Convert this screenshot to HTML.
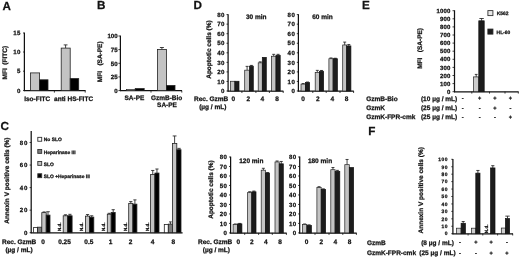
<!DOCTYPE html>
<html><head><meta charset="utf-8"><title>Figure</title>
<style>
html,body{margin:0;padding:0;background:#fff;}
svg{display:block}
text{font-family:"Liberation Sans",sans-serif;font-weight:bold;fill:#111;text-rendering:geometricPrecision;stroke:#111;stroke-width:0.25px;white-space:pre;}
</style></head><body>
<svg width="520" height="258" viewBox="0 0 520 258">
<rect width="520" height="258" fill="#fff"/>
<text x="2.40" y="9.90" text-anchor="start" font-size="11.7" >A</text>
<text x="97.00" y="9.30" text-anchor="start" font-size="11.7" >B</text>
<text x="193.50" y="9.00" text-anchor="start" font-size="11.7" >D</text>
<text x="362.10" y="9.00" text-anchor="start" font-size="11.7" >E</text>
<text x="0.50" y="130.20" text-anchor="start" font-size="11.7" >C</text>
<text x="368.30" y="134.60" text-anchor="start" font-size="11.7" >F</text>
<path d="M24.40 32.60L24.40 91.10" stroke="#111" stroke-width="1.25" fill="none"/>
<path d="M23.00 33.00L24.40 33.00" stroke="#111" stroke-width="0.8" fill="none"/>
<text x="20.70" y="35.20" text-anchor="end" font-size="6.1" letter-spacing="0.3">15</text>
<path d="M23.00 52.00L24.40 52.00" stroke="#111" stroke-width="0.8" fill="none"/>
<text x="20.70" y="54.20" text-anchor="end" font-size="6.1" letter-spacing="0.3">10</text>
<path d="M23.00 71.20L24.40 71.20" stroke="#111" stroke-width="0.8" fill="none"/>
<text x="20.70" y="73.40" text-anchor="end" font-size="6.1" letter-spacing="0.3">5</text>
<path d="M23.00 90.60L24.40 90.60" stroke="#111" stroke-width="0.8" fill="none"/>
<text x="20.70" y="92.80" text-anchor="end" font-size="6.1" letter-spacing="0.3">0</text>
<path d="M23.90 90.60L85.60 90.60" stroke="#111" stroke-width="1.3" fill="none"/>
<path d="M54.40 90.60L54.40 92.60" stroke="#111" stroke-width="0.8" fill="none"/>
<path d="M85.20 90.60L85.20 92.60" stroke="#111" stroke-width="0.8" fill="none"/>
<rect x="30.40" y="72.90" width="9.20" height="17.70" fill="#c3c3c3" stroke="#222" stroke-width="0.8"/>
<rect x="39.60" y="79.80" width="8.40" height="10.80" fill="#000" stroke="#222" stroke-width="0.8"/>
<path d="M65.60 48.00V44.90M63.70 44.90H67.50" stroke="#222" stroke-width="0.85" fill="none"/>
<rect x="61.20" y="48.10" width="9.00" height="42.50" fill="#c3c3c3" stroke="#222" stroke-width="0.8"/>
<rect x="70.20" y="78.60" width="8.50" height="12.00" fill="#000" stroke="#222" stroke-width="0.8"/>
<text x="37.20" y="100.60" text-anchor="middle" font-size="6.5" >Iso-FITC</text>
<text x="73.60" y="100.60" text-anchor="middle" font-size="6.5" >anti HS-FITC</text>
<text transform="translate(7.20 79.50) rotate(-90)" text-anchor="start" font-size="6.5" xml:space="preserve">MFI  (FITC)</text>
<path d="M120.40 35.60L120.40 91.10" stroke="#111" stroke-width="1.25" fill="none"/>
<path d="M118.40 36.00L120.40 36.00" stroke="#111" stroke-width="0.8" fill="none"/>
<text x="117.60" y="38.20" text-anchor="end" font-size="6.1" >100</text>
<path d="M118.40 49.60L120.40 49.60" stroke="#111" stroke-width="0.8" fill="none"/>
<text x="117.60" y="51.80" text-anchor="end" font-size="6.1" >75</text>
<path d="M118.40 63.30L120.40 63.30" stroke="#111" stroke-width="0.8" fill="none"/>
<text x="117.60" y="65.50" text-anchor="end" font-size="6.1" >50</text>
<path d="M118.40 76.90L120.40 76.90" stroke="#111" stroke-width="0.8" fill="none"/>
<text x="117.60" y="79.10" text-anchor="end" font-size="6.1" >25</text>
<path d="M118.40 90.60L120.40 90.60" stroke="#111" stroke-width="0.8" fill="none"/>
<text x="117.60" y="92.80" text-anchor="end" font-size="6.1" >0</text>
<path d="M119.90 90.60L182.00 90.60" stroke="#111" stroke-width="1.3" fill="none"/>
<path d="M151.00 90.60L151.00 92.60" stroke="#111" stroke-width="0.8" fill="none"/>
<path d="M181.80 90.60L181.80 92.60" stroke="#111" stroke-width="0.8" fill="none"/>
<rect x="126.60" y="89.60" width="8.60" height="1.00" fill="#c3c3c3" stroke="#222" stroke-width="0.7"/>
<rect x="135.20" y="88.50" width="9.00" height="2.10" fill="#000" stroke="#222" stroke-width="0.7"/>
<path d="M161.90 49.40V47.50M159.90 47.50H163.90" stroke="#222" stroke-width="0.85" fill="none"/>
<rect x="157.40" y="49.40" width="9.00" height="41.20" fill="#c3c3c3" stroke="#222" stroke-width="0.8"/>
<rect x="166.40" y="85.50" width="8.60" height="5.10" fill="#000" stroke="#222" stroke-width="0.8"/>
<text x="134.40" y="99.90" text-anchor="middle" font-size="6.5" >SA-PE</text>
<text x="166.60" y="99.90" text-anchor="middle" font-size="6.5" >GzmB-Bio</text>
<text x="167.00" y="107.00" text-anchor="middle" font-size="6.5" >SA-PE</text>
<text transform="translate(102.30 82.20) rotate(-90)" text-anchor="start" font-size="6.5" xml:space="preserve">MFI   (SA-PE)</text>
<path d="M228.10 14.20L228.10 91.50" stroke="#111" stroke-width="1.25" fill="none"/>
<path d="M226.50 14.60L228.10 14.60" stroke="#111" stroke-width="0.8" fill="none"/>
<text x="224.90" y="16.80" text-anchor="end" font-size="6.1" letter-spacing="0.4">80</text>
<path d="M226.50 24.15L228.10 24.15" stroke="#111" stroke-width="0.8" fill="none"/>
<text x="224.90" y="26.35" text-anchor="end" font-size="6.1" letter-spacing="0.4">70</text>
<path d="M226.50 33.70L228.10 33.70" stroke="#111" stroke-width="0.8" fill="none"/>
<text x="224.90" y="35.90" text-anchor="end" font-size="6.1" letter-spacing="0.4">60</text>
<path d="M226.50 43.25L228.10 43.25" stroke="#111" stroke-width="0.8" fill="none"/>
<text x="224.90" y="45.45" text-anchor="end" font-size="6.1" letter-spacing="0.4">50</text>
<path d="M226.50 52.80L228.10 52.80" stroke="#111" stroke-width="0.8" fill="none"/>
<text x="224.90" y="55.00" text-anchor="end" font-size="6.1" letter-spacing="0.4">40</text>
<path d="M226.50 62.35L228.10 62.35" stroke="#111" stroke-width="0.8" fill="none"/>
<text x="224.90" y="64.55" text-anchor="end" font-size="6.1" letter-spacing="0.4">30</text>
<path d="M226.50 71.90L228.10 71.90" stroke="#111" stroke-width="0.8" fill="none"/>
<text x="224.90" y="74.10" text-anchor="end" font-size="6.1" letter-spacing="0.4">20</text>
<path d="M226.50 81.45L228.10 81.45" stroke="#111" stroke-width="0.8" fill="none"/>
<text x="224.90" y="83.65" text-anchor="end" font-size="6.1" letter-spacing="0.4">10</text>
<path d="M226.50 91.00L228.10 91.00" stroke="#111" stroke-width="0.8" fill="none"/>
<text x="224.90" y="93.20" text-anchor="end" font-size="6.1" letter-spacing="0.4">0</text>
<path d="M227.60 91.20L283.40 91.20" stroke="#111" stroke-width="1.3" fill="none"/>
<path d="M241.90 91.00L241.90 93.00" stroke="#111" stroke-width="0.8" fill="none"/>
<path d="M255.90 91.00L255.90 93.00" stroke="#111" stroke-width="0.8" fill="none"/>
<path d="M269.40 91.00L269.40 93.00" stroke="#111" stroke-width="0.8" fill="none"/>
<path d="M283.20 91.00L283.20 93.00" stroke="#111" stroke-width="0.8" fill="none"/>
<rect x="230.50" y="81.26" width="4.40" height="9.74" fill="#c3c3c3" stroke="#222" stroke-width="0.7"/>
<rect x="234.90" y="81.26" width="4.10" height="9.74" fill="#1c1c1c" stroke="#111" stroke-width="0.7"/>
<path d="M247.10 70.18V66.36M245.60 66.36H248.60" stroke="#222" stroke-width="0.85" fill="none"/>
<path d="M251.40 66.17V65.41M249.90 65.41H252.90" stroke="#222" stroke-width="0.85" fill="none"/>
<rect x="244.70" y="70.18" width="4.80" height="20.82" fill="#c3c3c3" stroke="#222" stroke-width="0.7"/>
<rect x="249.50" y="66.17" width="3.80" height="24.83" fill="#1c1c1c" stroke="#111" stroke-width="0.7"/>
<path d="M260.25 62.83V61.87M258.75 61.87H261.75" stroke="#222" stroke-width="0.85" fill="none"/>
<rect x="258.20" y="62.83" width="4.10" height="28.17" fill="#c3c3c3" stroke="#222" stroke-width="0.7"/>
<rect x="262.30" y="57.38" width="4.00" height="33.62" fill="#1c1c1c" stroke="#111" stroke-width="0.7"/>
<path d="M273.70 56.24V54.33M272.20 54.33H275.20" stroke="#222" stroke-width="0.85" fill="none"/>
<path d="M278.10 55.28V54.33M276.60 54.33H279.60" stroke="#222" stroke-width="0.85" fill="none"/>
<rect x="271.40" y="56.24" width="4.60" height="34.76" fill="#c3c3c3" stroke="#222" stroke-width="0.7"/>
<rect x="276.00" y="55.28" width="4.20" height="35.72" fill="#1c1c1c" stroke="#111" stroke-width="0.7"/>
<text x="233.30" y="101.00" text-anchor="middle" font-size="6.5" >0</text>
<text x="248.20" y="101.00" text-anchor="middle" font-size="6.5" >2</text>
<text x="262.30" y="101.00" text-anchor="middle" font-size="6.5" >4</text>
<text x="277.00" y="101.00" text-anchor="middle" font-size="6.5" >8</text>
<text x="256.30" y="19.00" text-anchor="middle" font-size="6.5" >30 min</text>
<path d="M298.40 14.20L298.40 91.50" stroke="#111" stroke-width="1.25" fill="none"/>
<path d="M296.80 14.60L298.40 14.60" stroke="#111" stroke-width="0.8" fill="none"/>
<text x="295.20" y="16.80" text-anchor="end" font-size="6.1" letter-spacing="0.4">80</text>
<path d="M296.80 24.15L298.40 24.15" stroke="#111" stroke-width="0.8" fill="none"/>
<text x="295.20" y="26.35" text-anchor="end" font-size="6.1" letter-spacing="0.4">70</text>
<path d="M296.80 33.70L298.40 33.70" stroke="#111" stroke-width="0.8" fill="none"/>
<text x="295.20" y="35.90" text-anchor="end" font-size="6.1" letter-spacing="0.4">60</text>
<path d="M296.80 43.25L298.40 43.25" stroke="#111" stroke-width="0.8" fill="none"/>
<text x="295.20" y="45.45" text-anchor="end" font-size="6.1" letter-spacing="0.4">50</text>
<path d="M296.80 52.80L298.40 52.80" stroke="#111" stroke-width="0.8" fill="none"/>
<text x="295.20" y="55.00" text-anchor="end" font-size="6.1" letter-spacing="0.4">40</text>
<path d="M296.80 62.35L298.40 62.35" stroke="#111" stroke-width="0.8" fill="none"/>
<text x="295.20" y="64.55" text-anchor="end" font-size="6.1" letter-spacing="0.4">30</text>
<path d="M296.80 71.90L298.40 71.90" stroke="#111" stroke-width="0.8" fill="none"/>
<text x="295.20" y="74.10" text-anchor="end" font-size="6.1" letter-spacing="0.4">20</text>
<path d="M296.80 81.45L298.40 81.45" stroke="#111" stroke-width="0.8" fill="none"/>
<text x="295.20" y="83.65" text-anchor="end" font-size="6.1" letter-spacing="0.4">10</text>
<path d="M296.80 91.00L298.40 91.00" stroke="#111" stroke-width="0.8" fill="none"/>
<text x="295.20" y="93.20" text-anchor="end" font-size="6.1" letter-spacing="0.4">0</text>
<path d="M297.90 91.20L353.80 91.20" stroke="#111" stroke-width="1.3" fill="none"/>
<path d="M312.80 91.00L312.80 93.00" stroke="#111" stroke-width="0.8" fill="none"/>
<path d="M326.20 91.00L326.20 93.00" stroke="#111" stroke-width="0.8" fill="none"/>
<path d="M340.00 91.00L340.00 93.00" stroke="#111" stroke-width="0.8" fill="none"/>
<path d="M353.60 91.00L353.60 93.00" stroke="#111" stroke-width="0.8" fill="none"/>
<path d="M303.20 84.12V83.55M301.70 83.55H304.70" stroke="#222" stroke-width="0.85" fill="none"/>
<path d="M307.50 82.60V82.02M306.00 82.02H309.00" stroke="#222" stroke-width="0.85" fill="none"/>
<rect x="301.00" y="84.12" width="4.40" height="6.88" fill="#c3c3c3" stroke="#222" stroke-width="0.7"/>
<rect x="305.40" y="82.60" width="4.20" height="8.40" fill="#1c1c1c" stroke="#111" stroke-width="0.7"/>
<path d="M317.30 72.47V70.37M315.80 70.37H318.80" stroke="#222" stroke-width="0.85" fill="none"/>
<path d="M321.50 71.23V70.47M320.00 70.47H323.00" stroke="#222" stroke-width="0.85" fill="none"/>
<rect x="315.20" y="72.47" width="4.20" height="18.53" fill="#c3c3c3" stroke="#222" stroke-width="0.7"/>
<rect x="319.40" y="71.23" width="4.20" height="19.77" fill="#1c1c1c" stroke="#111" stroke-width="0.7"/>
<path d="M331.00 58.72V57.96M329.50 57.96H332.50" stroke="#222" stroke-width="0.85" fill="none"/>
<path d="M335.25 58.72V58.24M333.75 58.24H336.75" stroke="#222" stroke-width="0.85" fill="none"/>
<rect x="328.90" y="58.72" width="4.20" height="32.28" fill="#c3c3c3" stroke="#222" stroke-width="0.7"/>
<rect x="333.10" y="58.72" width="4.30" height="32.28" fill="#1c1c1c" stroke="#111" stroke-width="0.7"/>
<path d="M344.70 44.97V42.10M343.20 42.10H346.20" stroke="#222" stroke-width="0.85" fill="none"/>
<path d="M348.80 45.92V44.49M347.30 44.49H350.30" stroke="#222" stroke-width="0.85" fill="none"/>
<rect x="342.70" y="44.97" width="4.00" height="46.03" fill="#c3c3c3" stroke="#222" stroke-width="0.7"/>
<rect x="346.70" y="45.92" width="4.20" height="45.08" fill="#1c1c1c" stroke="#111" stroke-width="0.7"/>
<text x="303.00" y="101.00" text-anchor="middle" font-size="6.5" >0</text>
<text x="317.90" y="101.00" text-anchor="middle" font-size="6.5" >2</text>
<text x="332.20" y="101.00" text-anchor="middle" font-size="6.5" >4</text>
<text x="346.60" y="101.00" text-anchor="middle" font-size="6.5" >8</text>
<text x="322.50" y="19.00" text-anchor="middle" font-size="6.5" >60 min</text>
<text x="228.30" y="101.00" text-anchor="end" font-size="6.5" >Rec. GzmB</text>
<text x="226.40" y="108.50" text-anchor="end" font-size="6.5" >(µg / mL)</text>
<text transform="translate(211.20 78.80) rotate(-90)" text-anchor="start" font-size="6.5" >Apoptotic cells (%)</text>
<path d="M230.60 156.60L230.60 233.40" stroke="#111" stroke-width="1.25" fill="none"/>
<path d="M229.00 157.00L230.60 157.00" stroke="#111" stroke-width="0.8" fill="none"/>
<text x="227.40" y="159.20" text-anchor="end" font-size="6.1" letter-spacing="0.4">80</text>
<path d="M229.00 166.49L230.60 166.49" stroke="#111" stroke-width="0.8" fill="none"/>
<text x="227.40" y="168.68" text-anchor="end" font-size="6.1" letter-spacing="0.4">70</text>
<path d="M229.00 175.97L230.60 175.97" stroke="#111" stroke-width="0.8" fill="none"/>
<text x="227.40" y="178.17" text-anchor="end" font-size="6.1" letter-spacing="0.4">60</text>
<path d="M229.00 185.46L230.60 185.46" stroke="#111" stroke-width="0.8" fill="none"/>
<text x="227.40" y="187.66" text-anchor="end" font-size="6.1" letter-spacing="0.4">50</text>
<path d="M229.00 194.95L230.60 194.95" stroke="#111" stroke-width="0.8" fill="none"/>
<text x="227.40" y="197.15" text-anchor="end" font-size="6.1" letter-spacing="0.4">40</text>
<path d="M229.00 204.44L230.60 204.44" stroke="#111" stroke-width="0.8" fill="none"/>
<text x="227.40" y="206.63" text-anchor="end" font-size="6.1" letter-spacing="0.4">30</text>
<path d="M229.00 213.93L230.60 213.93" stroke="#111" stroke-width="0.8" fill="none"/>
<text x="227.40" y="216.12" text-anchor="end" font-size="6.1" letter-spacing="0.4">20</text>
<path d="M229.00 223.41L230.60 223.41" stroke="#111" stroke-width="0.8" fill="none"/>
<text x="227.40" y="225.61" text-anchor="end" font-size="6.1" letter-spacing="0.4">10</text>
<path d="M229.00 232.90L230.60 232.90" stroke="#111" stroke-width="0.8" fill="none"/>
<text x="227.40" y="235.10" text-anchor="end" font-size="6.1" letter-spacing="0.4">0</text>
<path d="M230.10 233.10L286.60 233.10" stroke="#111" stroke-width="1.3" fill="none"/>
<path d="M244.70 232.90L244.70 234.90" stroke="#111" stroke-width="0.8" fill="none"/>
<path d="M258.60 232.90L258.60 234.90" stroke="#111" stroke-width="0.8" fill="none"/>
<path d="M272.30 232.90L272.30 234.90" stroke="#111" stroke-width="0.8" fill="none"/>
<path d="M286.40 232.90L286.40 234.90" stroke="#111" stroke-width="0.8" fill="none"/>
<path d="M235.30 224.46V223.98M233.80 223.98H236.80" stroke="#222" stroke-width="0.85" fill="none"/>
<path d="M239.70 223.89V223.41M238.20 223.41H241.20" stroke="#222" stroke-width="0.85" fill="none"/>
<rect x="233.10" y="224.46" width="4.40" height="8.44" fill="#c3c3c3" stroke="#222" stroke-width="0.7"/>
<rect x="237.50" y="223.89" width="4.40" height="9.01" fill="#1c1c1c" stroke="#111" stroke-width="0.7"/>
<path d="M249.65 192.67V191.72M248.15 191.72H251.15" stroke="#222" stroke-width="0.85" fill="none"/>
<path d="M253.90 191.82V191.06M252.40 191.06H255.40" stroke="#222" stroke-width="0.85" fill="none"/>
<rect x="247.50" y="192.67" width="4.30" height="40.23" fill="#c3c3c3" stroke="#222" stroke-width="0.7"/>
<rect x="251.80" y="191.82" width="4.20" height="41.08" fill="#1c1c1c" stroke="#111" stroke-width="0.7"/>
<path d="M263.35 170.19V168.29M261.85 168.29H264.85" stroke="#222" stroke-width="0.85" fill="none"/>
<path d="M267.55 173.03V172.56M266.05 172.56H269.05" stroke="#222" stroke-width="0.85" fill="none"/>
<rect x="261.20" y="170.19" width="4.30" height="62.71" fill="#c3c3c3" stroke="#222" stroke-width="0.7"/>
<rect x="265.50" y="173.03" width="4.10" height="59.87" fill="#1c1c1c" stroke="#111" stroke-width="0.7"/>
<path d="M277.10 161.93V160.98M275.60 160.98H278.60" stroke="#222" stroke-width="0.85" fill="none"/>
<path d="M281.25 163.83V161.46M279.75 161.46H282.75" stroke="#222" stroke-width="0.85" fill="none"/>
<rect x="275.00" y="161.93" width="4.20" height="70.97" fill="#c3c3c3" stroke="#222" stroke-width="0.7"/>
<rect x="279.20" y="163.83" width="4.10" height="69.07" fill="#1c1c1c" stroke="#111" stroke-width="0.7"/>
<text x="238.30" y="244.20" text-anchor="middle" font-size="6.5" >0</text>
<text x="251.90" y="244.20" text-anchor="middle" font-size="6.5" >2</text>
<text x="265.80" y="244.20" text-anchor="middle" font-size="6.5" >4</text>
<text x="280.00" y="244.20" text-anchor="middle" font-size="6.5" >8</text>
<text x="251.30" y="163.20" text-anchor="middle" font-size="6.5" >120 min</text>
<path d="M299.70 156.60L299.70 233.40" stroke="#111" stroke-width="1.25" fill="none"/>
<path d="M298.10 157.00L299.70 157.00" stroke="#111" stroke-width="0.8" fill="none"/>
<text x="296.50" y="159.20" text-anchor="end" font-size="6.1" letter-spacing="0.4">80</text>
<path d="M298.10 166.49L299.70 166.49" stroke="#111" stroke-width="0.8" fill="none"/>
<text x="296.50" y="168.68" text-anchor="end" font-size="6.1" letter-spacing="0.4">70</text>
<path d="M298.10 175.97L299.70 175.97" stroke="#111" stroke-width="0.8" fill="none"/>
<text x="296.50" y="178.17" text-anchor="end" font-size="6.1" letter-spacing="0.4">60</text>
<path d="M298.10 185.46L299.70 185.46" stroke="#111" stroke-width="0.8" fill="none"/>
<text x="296.50" y="187.66" text-anchor="end" font-size="6.1" letter-spacing="0.4">50</text>
<path d="M298.10 194.95L299.70 194.95" stroke="#111" stroke-width="0.8" fill="none"/>
<text x="296.50" y="197.15" text-anchor="end" font-size="6.1" letter-spacing="0.4">40</text>
<path d="M298.10 204.44L299.70 204.44" stroke="#111" stroke-width="0.8" fill="none"/>
<text x="296.50" y="206.63" text-anchor="end" font-size="6.1" letter-spacing="0.4">30</text>
<path d="M298.10 213.93L299.70 213.93" stroke="#111" stroke-width="0.8" fill="none"/>
<text x="296.50" y="216.12" text-anchor="end" font-size="6.1" letter-spacing="0.4">20</text>
<path d="M298.10 223.41L299.70 223.41" stroke="#111" stroke-width="0.8" fill="none"/>
<text x="296.50" y="225.61" text-anchor="end" font-size="6.1" letter-spacing="0.4">10</text>
<path d="M298.10 232.90L299.70 232.90" stroke="#111" stroke-width="0.8" fill="none"/>
<text x="296.50" y="235.10" text-anchor="end" font-size="6.1" letter-spacing="0.4">0</text>
<path d="M299.20 233.10L356.60 233.10" stroke="#111" stroke-width="1.3" fill="none"/>
<path d="M315.00 232.90L315.00 234.90" stroke="#111" stroke-width="0.8" fill="none"/>
<path d="M329.00 232.90L329.00 234.90" stroke="#111" stroke-width="0.8" fill="none"/>
<path d="M342.80 232.90L342.80 234.90" stroke="#111" stroke-width="0.8" fill="none"/>
<path d="M356.40 232.90L356.40 234.90" stroke="#111" stroke-width="0.8" fill="none"/>
<path d="M304.65 224.36V223.98M303.15 223.98H306.15" stroke="#222" stroke-width="0.85" fill="none"/>
<path d="M309.15 225.40V224.84M307.65 224.84H310.65" stroke="#222" stroke-width="0.85" fill="none"/>
<rect x="302.40" y="224.36" width="4.50" height="8.54" fill="#c3c3c3" stroke="#222" stroke-width="0.7"/>
<rect x="306.90" y="225.40" width="4.50" height="7.50" fill="#1c1c1c" stroke="#111" stroke-width="0.7"/>
<path d="M319.05 187.64V186.70M317.55 186.70H320.55" stroke="#222" stroke-width="0.85" fill="none"/>
<path d="M323.40 189.35V188.88M321.90 188.88H324.90" stroke="#222" stroke-width="0.85" fill="none"/>
<rect x="316.90" y="187.64" width="4.30" height="45.26" fill="#c3c3c3" stroke="#222" stroke-width="0.7"/>
<rect x="321.20" y="189.35" width="4.40" height="43.55" fill="#1c1c1c" stroke="#111" stroke-width="0.7"/>
<path d="M332.95 169.71V167.53M331.45 167.53H334.45" stroke="#222" stroke-width="0.85" fill="none"/>
<path d="M337.45 171.33V170.38M335.95 170.38H338.95" stroke="#222" stroke-width="0.85" fill="none"/>
<rect x="330.80" y="169.71" width="4.30" height="63.19" fill="#c3c3c3" stroke="#222" stroke-width="0.7"/>
<rect x="335.10" y="171.33" width="4.70" height="61.57" fill="#1c1c1c" stroke="#111" stroke-width="0.7"/>
<path d="M347.05 164.68V159.47M345.55 159.47H348.55" stroke="#222" stroke-width="0.85" fill="none"/>
<rect x="344.80" y="164.68" width="4.50" height="68.22" fill="#c3c3c3" stroke="#222" stroke-width="0.7"/>
<rect x="349.30" y="167.53" width="4.30" height="65.37" fill="#1c1c1c" stroke="#111" stroke-width="0.7"/>
<text x="306.60" y="244.20" text-anchor="middle" font-size="6.5" >0</text>
<text x="321.20" y="244.20" text-anchor="middle" font-size="6.5" >2</text>
<text x="335.30" y="244.20" text-anchor="middle" font-size="6.5" >4</text>
<text x="349.50" y="244.20" text-anchor="middle" font-size="6.5" >8</text>
<text x="320.00" y="163.20" text-anchor="middle" font-size="6.5" >180 min</text>
<text x="232.30" y="244.20" text-anchor="end" font-size="6.5" >Rec. GzmB</text>
<text x="230.00" y="251.80" text-anchor="end" font-size="6.5" >(µg / mL)</text>
<text transform="translate(213.30 218.80) rotate(-90)" text-anchor="start" font-size="6.5" >Apoptotic cells (%)</text>
<path d="M454.50 10.30L454.50 92.20" stroke="#111" stroke-width="1.25" fill="none"/>
<path d="M452.50 10.70L454.50 10.70" stroke="#111" stroke-width="0.8" fill="none"/>
<text x="450.40" y="12.86" text-anchor="end" font-size="6.0" letter-spacing="0.15">1000</text>
<path d="M452.50 18.80L454.50 18.80" stroke="#111" stroke-width="0.8" fill="none"/>
<text x="450.40" y="20.96" text-anchor="end" font-size="6.0" letter-spacing="0.15">900</text>
<path d="M452.50 26.90L454.50 26.90" stroke="#111" stroke-width="0.8" fill="none"/>
<text x="450.40" y="29.06" text-anchor="end" font-size="6.0" letter-spacing="0.15">800</text>
<path d="M452.50 35.00L454.50 35.00" stroke="#111" stroke-width="0.8" fill="none"/>
<text x="450.40" y="37.16" text-anchor="end" font-size="6.0" letter-spacing="0.15">700</text>
<path d="M452.50 43.10L454.50 43.10" stroke="#111" stroke-width="0.8" fill="none"/>
<text x="450.40" y="45.26" text-anchor="end" font-size="6.0" letter-spacing="0.15">600</text>
<path d="M452.50 51.20L454.50 51.20" stroke="#111" stroke-width="0.8" fill="none"/>
<text x="450.40" y="53.36" text-anchor="end" font-size="6.0" letter-spacing="0.15">500</text>
<path d="M452.50 59.30L454.50 59.30" stroke="#111" stroke-width="0.8" fill="none"/>
<text x="450.40" y="61.46" text-anchor="end" font-size="6.0" letter-spacing="0.15">400</text>
<path d="M452.50 67.40L454.50 67.40" stroke="#111" stroke-width="0.8" fill="none"/>
<text x="450.40" y="69.56" text-anchor="end" font-size="6.0" letter-spacing="0.15">300</text>
<path d="M452.50 75.50L454.50 75.50" stroke="#111" stroke-width="0.8" fill="none"/>
<text x="450.40" y="77.66" text-anchor="end" font-size="6.0" letter-spacing="0.15">200</text>
<path d="M452.50 83.60L454.50 83.60" stroke="#111" stroke-width="0.8" fill="none"/>
<text x="450.40" y="85.76" text-anchor="end" font-size="6.0" letter-spacing="0.15">100</text>
<path d="M452.50 91.70L454.50 91.70" stroke="#111" stroke-width="0.8" fill="none"/>
<text x="450.40" y="93.86" text-anchor="end" font-size="6.0" letter-spacing="0.15">0</text>
<path d="M454.00 91.80L518.60 91.80" stroke="#111" stroke-width="1.2" fill="none"/>
<path d="M471.80 91.70L471.80 93.60" stroke="#111" stroke-width="0.8" fill="none"/>
<path d="M489.50 91.70L489.50 93.60" stroke="#111" stroke-width="0.8" fill="none"/>
<path d="M505.00 91.70L505.00 93.60" stroke="#111" stroke-width="0.8" fill="none"/>
<path d="M518.30 91.70L518.30 93.60" stroke="#111" stroke-width="0.8" fill="none"/>
<path d="M476.20 76.90V74.40M474.80 74.40H477.60" stroke="#222" stroke-width="0.85" fill="none"/>
<path d="M481.60 20.80V18.50M479.40 18.50H483.80" stroke="#222" stroke-width="0.85" fill="none"/>
<rect x="473.60" y="76.90" width="5.20" height="14.80" fill="#cccccc" stroke="#222" stroke-width="0.7"/>
<rect x="478.80" y="20.80" width="5.40" height="70.90" fill="#1c1c1c" stroke="#111" stroke-width="0.7"/>
<rect x="487.90" y="10.60" width="5.00" height="5.00" fill="#e8e8e8" stroke="#333" stroke-width="0.8999999999999999"/>
<rect x="487.90" y="29.10" width="5.00" height="5.00" fill="#1c1c1c" stroke="#222" stroke-width="0.8999999999999999"/>
<text x="496.80" y="15.20" text-anchor="start" font-size="4.9" fill="#333" stroke="#333">K562</text>
<text x="496.60" y="34.10" text-anchor="start" font-size="4.9" fill="#333" stroke="#333">HL-60</text>
<text transform="translate(421.70 68.80) rotate(-90)" text-anchor="start" font-size="6.5" xml:space="preserve">MFI   (SA-PE)</text>
<text x="366.20" y="100.50" text-anchor="start" font-size="6.5" >GzmB-Bio</text>
<text x="457.20" y="100.50" text-anchor="end" font-size="6.5" >(10 µg / mL)</text>
<text x="462.70" y="100.00" text-anchor="middle" font-size="5.6" >-</text>
<text x="479.60" y="100.00" text-anchor="middle" font-size="5.6" >+</text>
<text x="495.00" y="100.00" text-anchor="middle" font-size="5.6" >+</text>
<text x="510.40" y="100.00" text-anchor="middle" font-size="5.6" >+</text>
<text x="366.20" y="110.10" text-anchor="start" font-size="6.5" >GzmK</text>
<text x="457.20" y="110.10" text-anchor="end" font-size="6.5" >(25 µg / mL)</text>
<text x="462.70" y="109.60" text-anchor="middle" font-size="5.6" >-</text>
<text x="479.60" y="109.60" text-anchor="middle" font-size="5.6" >-</text>
<text x="495.00" y="109.60" text-anchor="middle" font-size="5.6" >+</text>
<text x="510.40" y="109.60" text-anchor="middle" font-size="5.6" >-</text>
<text x="366.20" y="119.00" text-anchor="start" font-size="6.5" >GzmK-FPR-cmk</text>
<text x="457.20" y="119.00" text-anchor="end" font-size="6.5" >(25 µg / mL)</text>
<text x="462.70" y="118.50" text-anchor="middle" font-size="5.6" >-</text>
<text x="479.60" y="118.50" text-anchor="middle" font-size="5.6" >-</text>
<text x="495.00" y="118.50" text-anchor="middle" font-size="5.6" >-</text>
<text x="510.40" y="118.50" text-anchor="middle" font-size="5.6" >+</text>
<path d="M452.90 158.90L452.90 234.20" stroke="#111" stroke-width="1.25" fill="none"/>
<path d="M451.30 159.30L452.90 159.30" stroke="#111" stroke-width="0.8" fill="none"/>
<text x="448.00" y="161.06" text-anchor="end" font-size="4.9" letter-spacing="0.55">100</text>
<path d="M451.30 166.74L452.90 166.74" stroke="#111" stroke-width="0.8" fill="none"/>
<text x="448.00" y="168.50" text-anchor="end" font-size="4.9" letter-spacing="0.55">90</text>
<path d="M451.30 174.18L452.90 174.18" stroke="#111" stroke-width="0.8" fill="none"/>
<text x="448.00" y="175.94" text-anchor="end" font-size="4.9" letter-spacing="0.55">80</text>
<path d="M451.30 181.62L452.90 181.62" stroke="#111" stroke-width="0.8" fill="none"/>
<text x="448.00" y="183.38" text-anchor="end" font-size="4.9" letter-spacing="0.55">70</text>
<path d="M451.30 189.06L452.90 189.06" stroke="#111" stroke-width="0.8" fill="none"/>
<text x="448.00" y="190.82" text-anchor="end" font-size="4.9" letter-spacing="0.55">60</text>
<path d="M451.30 196.50L452.90 196.50" stroke="#111" stroke-width="0.8" fill="none"/>
<text x="448.00" y="198.26" text-anchor="end" font-size="4.9" letter-spacing="0.55">50</text>
<path d="M451.30 203.94L452.90 203.94" stroke="#111" stroke-width="0.8" fill="none"/>
<text x="448.00" y="205.70" text-anchor="end" font-size="4.9" letter-spacing="0.55">40</text>
<path d="M451.30 211.38L452.90 211.38" stroke="#111" stroke-width="0.8" fill="none"/>
<text x="448.00" y="213.14" text-anchor="end" font-size="4.9" letter-spacing="0.55">30</text>
<path d="M451.30 218.82L452.90 218.82" stroke="#111" stroke-width="0.8" fill="none"/>
<text x="448.00" y="220.58" text-anchor="end" font-size="4.9" letter-spacing="0.55">20</text>
<path d="M451.30 226.26L452.90 226.26" stroke="#111" stroke-width="0.8" fill="none"/>
<text x="448.00" y="228.02" text-anchor="end" font-size="4.9" letter-spacing="0.55">10</text>
<path d="M451.30 233.70L452.90 233.70" stroke="#111" stroke-width="0.8" fill="none"/>
<text x="448.00" y="235.46" text-anchor="end" font-size="4.9" letter-spacing="0.55">0</text>
<path d="M452.40 233.80L513.00 233.80" stroke="#111" stroke-width="1.2" fill="none"/>
<path d="M468.10 233.70L468.10 235.50" stroke="#111" stroke-width="0.8" fill="none"/>
<path d="M482.80 233.70L482.80 235.50" stroke="#111" stroke-width="0.8" fill="none"/>
<path d="M497.60 233.70L497.60 235.50" stroke="#111" stroke-width="0.8" fill="none"/>
<path d="M512.70 233.70L512.70 235.50" stroke="#111" stroke-width="0.8" fill="none"/>
<path d="M463.20 223.28V221.50M461.70 221.50H464.70" stroke="#222" stroke-width="0.85" fill="none"/>
<path d="M477.90 173.14V170.46M476.30 170.46H479.50" stroke="#222" stroke-width="0.85" fill="none"/>
<path d="M492.80 167.93V165.70M491.20 165.70H494.40" stroke="#222" stroke-width="0.85" fill="none"/>
<path d="M507.50 218.60V216.14M505.30 216.14H509.70" stroke="#222" stroke-width="0.85" fill="none"/>
<rect x="456.50" y="228.19" width="4.60" height="5.51" fill="#cfcfcf" stroke="#222" stroke-width="0.7"/>
<rect x="461.10" y="223.28" width="4.30" height="10.42" fill="#1c1c1c" stroke="#111" stroke-width="0.7"/>
<rect x="471.40" y="228.19" width="4.40" height="5.51" fill="#cfcfcf" stroke="#222" stroke-width="0.7"/>
<rect x="475.80" y="173.14" width="4.20" height="60.56" fill="#1c1c1c" stroke="#111" stroke-width="0.7"/>
<rect x="490.60" y="167.93" width="4.40" height="65.77" fill="#1c1c1c" stroke="#111" stroke-width="0.7"/>
<rect x="501.30" y="228.05" width="4.10" height="5.65" fill="#cfcfcf" stroke="#222" stroke-width="0.7"/>
<rect x="505.40" y="218.60" width="4.20" height="15.10" fill="#1c1c1c" stroke="#111" stroke-width="0.7"/>
<text transform="translate(488.00 233.20) rotate(-90)" text-anchor="start" font-size="4.6" >N.d.</text>
<text transform="translate(423.10 233.50) rotate(-90)" text-anchor="start" font-size="6.5" >Annexin V positive cells (%)</text>
<text x="366.90" y="244.80" text-anchor="start" font-size="6.5" >GzmB</text>
<text x="453.80" y="244.80" text-anchor="end" font-size="6.5" >(8 µg / mL)</text>
<text x="460.00" y="244.20" text-anchor="middle" font-size="5.6" >-</text>
<text x="475.90" y="244.20" text-anchor="middle" font-size="5.6" >+</text>
<text x="491.20" y="244.20" text-anchor="middle" font-size="5.6" >+</text>
<text x="507.00" y="244.20" text-anchor="middle" font-size="5.6" >-</text>
<text x="366.90" y="255.40" text-anchor="start" font-size="6.5" >GzmK-FPR-cmk</text>
<text x="455.60" y="255.40" text-anchor="end" font-size="6.5" >(25 µg / mL)</text>
<text x="460.00" y="254.80" text-anchor="middle" font-size="5.6" >-</text>
<text x="475.90" y="254.80" text-anchor="middle" font-size="5.6" >-</text>
<text x="491.20" y="254.80" text-anchor="middle" font-size="5.6" >+</text>
<text x="507.00" y="254.80" text-anchor="middle" font-size="5.6" >+</text>
<path d="M31.20 131.00L31.20 233.20" stroke="#111" stroke-width="1.25" fill="none"/>
<path d="M29.60 142.50L31.20 142.50" stroke="#111" stroke-width="0.8" fill="none"/>
<text x="28.00" y="144.70" text-anchor="end" font-size="6.1" letter-spacing="0.7">80</text>
<path d="M29.60 165.05L31.20 165.05" stroke="#111" stroke-width="0.8" fill="none"/>
<text x="28.00" y="167.25" text-anchor="end" font-size="6.1" letter-spacing="0.7">60</text>
<path d="M29.60 187.60L31.20 187.60" stroke="#111" stroke-width="0.8" fill="none"/>
<text x="28.00" y="189.80" text-anchor="end" font-size="6.1" letter-spacing="0.7">40</text>
<path d="M29.60 210.15L31.20 210.15" stroke="#111" stroke-width="0.8" fill="none"/>
<text x="28.00" y="212.35" text-anchor="end" font-size="6.1" letter-spacing="0.7">20</text>
<path d="M29.60 232.70L31.20 232.70" stroke="#111" stroke-width="0.8" fill="none"/>
<text x="28.00" y="234.90" text-anchor="end" font-size="6.1" letter-spacing="0.7">0</text>
<path d="M30.70 232.90L182.60 232.90" stroke="#111" stroke-width="1.3" fill="none"/>
<text transform="translate(9.40 223.80) rotate(-90)" text-anchor="start" font-size="6.5" >Annexin V positive cells (%)</text>
<rect x="37.80" y="137.35" width="3.90" height="3.90" fill="#fff" stroke="#333" stroke-width="0.8999999999999999"/>
<text x="43.80" y="141.45" text-anchor="start" font-size="4.9" >No SLO</text>
<rect x="37.80" y="149.45" width="3.90" height="3.90" fill="#7d7d7d" stroke="#333" stroke-width="0.8999999999999999"/>
<text x="43.80" y="153.55" text-anchor="start" font-size="4.9" >Heparinase III</text>
<rect x="37.80" y="161.45" width="3.90" height="3.90" fill="#c3c3c3" stroke="#333" stroke-width="0.8999999999999999"/>
<text x="43.80" y="165.55" text-anchor="start" font-size="4.9" >SLO</text>
<rect x="37.80" y="173.75" width="3.90" height="3.90" fill="#000" stroke="#333" stroke-width="0.8999999999999999"/>
<text x="43.80" y="177.85" text-anchor="start" font-size="4.9" >SLO +Heparinase III</text>
<path d="M44.10 212.63V211.95M42.60 211.95H45.60" stroke="#222" stroke-width="0.85" fill="none"/>
<path d="M48.00 215.11V211.73M46.20 211.73H49.80" stroke="#222" stroke-width="0.85" fill="none"/>
<rect x="33.60" y="227.51" width="3.90" height="5.19" fill="#fff" stroke="#222" stroke-width="0.8"/>
<rect x="37.50" y="227.18" width="4.30" height="5.52" fill="#7d7d7d" stroke="#222" stroke-width="0.8"/>
<rect x="41.80" y="212.63" width="4.40" height="20.07" fill="#c3c3c3" stroke="#222" stroke-width="0.8"/>
<rect x="46.20" y="215.11" width="3.80" height="17.59" fill="#000" stroke="#222" stroke-width="0.8"/>
<path d="M65.45 215.79V214.77M63.85 214.77H67.05" stroke="#222" stroke-width="0.85" fill="none"/>
<path d="M69.90 215.79V214.32M68.30 214.32H71.50" stroke="#222" stroke-width="0.85" fill="none"/>
<rect x="63.20" y="215.79" width="4.50" height="16.91" fill="#c3c3c3" stroke="#222" stroke-width="0.8"/>
<rect x="67.70" y="215.79" width="4.40" height="16.91" fill="#000" stroke="#222" stroke-width="0.8"/>
<text transform="translate(60.60 230.90) rotate(-90)" text-anchor="start" font-size="4.5" >N.d.</text>
<path d="M87.55 216.13V214.55M85.95 214.55H89.15" stroke="#222" stroke-width="0.85" fill="none"/>
<path d="M91.70 217.14V215.79M90.10 215.79H93.30" stroke="#222" stroke-width="0.85" fill="none"/>
<rect x="85.50" y="216.13" width="4.10" height="16.57" fill="#c3c3c3" stroke="#222" stroke-width="0.8"/>
<rect x="89.60" y="217.14" width="4.20" height="15.56" fill="#000" stroke="#222" stroke-width="0.8"/>
<text transform="translate(82.80 230.90) rotate(-90)" text-anchor="start" font-size="4.5" >N.d.</text>
<path d="M109.25 214.21V213.31M107.65 213.31H110.85" stroke="#222" stroke-width="0.85" fill="none"/>
<path d="M113.20 212.41V209.70M111.60 209.70H114.80" stroke="#222" stroke-width="0.85" fill="none"/>
<rect x="107.30" y="214.21" width="3.90" height="18.49" fill="#c3c3c3" stroke="#222" stroke-width="0.8"/>
<rect x="111.20" y="212.41" width="4.00" height="20.29" fill="#000" stroke="#222" stroke-width="0.8"/>
<text transform="translate(105.00 230.90) rotate(-90)" text-anchor="start" font-size="4.5" >N.d.</text>
<path d="M130.80 203.38V201.58M129.20 201.58H132.40" stroke="#222" stroke-width="0.85" fill="none"/>
<path d="M134.90 204.17V199.89M133.30 199.89H136.50" stroke="#222" stroke-width="0.85" fill="none"/>
<rect x="128.70" y="203.38" width="4.20" height="29.31" fill="#c3c3c3" stroke="#222" stroke-width="0.8"/>
<rect x="132.90" y="204.17" width="4.00" height="28.53" fill="#000" stroke="#222" stroke-width="0.8"/>
<text transform="translate(126.70 230.90) rotate(-90)" text-anchor="start" font-size="4.5" >N.d.</text>
<path d="M152.75 174.52V170.46M151.15 170.46H154.35" stroke="#222" stroke-width="0.85" fill="none"/>
<path d="M156.95 173.06V169.00M155.35 169.00H158.55" stroke="#222" stroke-width="0.85" fill="none"/>
<rect x="150.60" y="174.52" width="4.30" height="58.18" fill="#c3c3c3" stroke="#222" stroke-width="0.8"/>
<rect x="154.90" y="173.06" width="4.10" height="59.64" fill="#000" stroke="#222" stroke-width="0.8"/>
<text transform="translate(148.50 230.90) rotate(-90)" text-anchor="start" font-size="4.5" >N.d.</text>
<path d="M170.40 224.13V221.88M169.00 221.88H171.80" stroke="#222" stroke-width="0.85" fill="none"/>
<path d="M174.60 143.40V135.96M172.70 135.96H176.50" stroke="#222" stroke-width="0.85" fill="none"/>
<path d="M179.00 149.72V148.36M177.30 148.36H180.70" stroke="#222" stroke-width="0.85" fill="none"/>
<rect x="164.30" y="224.58" width="4.00" height="8.12" fill="#fff" stroke="#222" stroke-width="0.8"/>
<rect x="168.30" y="224.13" width="4.20" height="8.57" fill="#7d7d7d" stroke="#222" stroke-width="0.8"/>
<rect x="172.50" y="143.40" width="4.30" height="89.30" fill="#c3c3c3" stroke="#222" stroke-width="0.8"/>
<rect x="176.80" y="149.72" width="4.20" height="82.98" fill="#000" stroke="#222" stroke-width="0.8"/>
<text x="43.00" y="244.00" text-anchor="middle" font-size="6.5" >0</text>
<text x="64.50" y="244.00" text-anchor="middle" font-size="6.5" >0.25</text>
<text x="88.80" y="244.00" text-anchor="middle" font-size="6.5" >0.5</text>
<text x="110.60" y="244.00" text-anchor="middle" font-size="6.5" >1</text>
<text x="130.50" y="244.00" text-anchor="middle" font-size="6.5" >2</text>
<text x="152.50" y="244.00" text-anchor="middle" font-size="6.5" >4</text>
<text x="173.30" y="244.00" text-anchor="middle" font-size="6.5" >8</text>
<text x="36.30" y="244.00" text-anchor="end" font-size="6.5" >Rec. GzmB</text>
<text x="32.60" y="251.60" text-anchor="end" font-size="6.5" >(µg / mL)</text>
</svg>
</body></html>
